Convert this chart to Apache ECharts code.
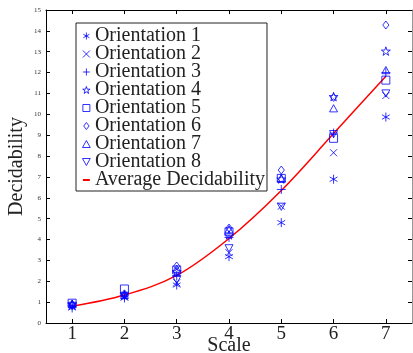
<!DOCTYPE html>
<html><head><meta charset="utf-8">
<script src="https://cdn.jsdelivr.net/npm/echarts@6/dist/echarts.min.js"></script>
<style>html,body{margin:0;padding:0;background:#fff}#c{width:413px;height:353px}</style>
</head><body><div id="c"></div>
<script>
const scales = [1, 2, 3, 4, 5, 6, 7];
const xTicks = [1, 2, 3, 4, 5, 6, 7];
const orientation1 = [0.72, 1.20, 1.82, 3.18, 4.81, 6.89, 9.87];
const orientation2 = [0.80, 1.25, 1.93, 3.37, 5.60, 8.16, 10.90];
const orientation3 = [0.85, 1.30, 2.27, 4.10, 6.40, 9.10, 12.00];
const orientation4 = [0.90, 1.35, 2.46, 4.22, 6.90, 10.85, 13.03];
const orientation5 = [0.95, 1.63, 2.54, 4.37, 6.93, 8.85, 11.64];
const orientation6 = [0.90, 1.40, 2.73, 4.55, 7.33, 10.81, 14.28];
const orientation7 = [0.90, 1.35, 2.60, 4.49, 6.95, 10.29, 12.12];
const orientation8 = [0.82, 1.30, 2.06, 3.58, 5.57, 9.05, 11.00];
const averageDecidability = [0.80, 1.34, 2.28, 4.05, 6.35, 9.08, 11.83];
const seriesNames = ['Orientation 1','Orientation 2','Orientation 3','Orientation 4','Orientation 5','Orientation 6','Orientation 7','Orientation 8','Average Decidability'];

const SYM = {
  asterisk: 'path://M0,-1L0,1M-0.866,-0.5L0.866,0.5M-0.866,0.5L0.866,-0.5',
  cross: 'path://M-1,-1L1,1M-1,1L1,-1',
  plus: 'path://M0,-1L0,1M-1,0L1,0',
  star: 'path://M0,-1L0.2245,-0.309L0.951,-0.309L0.3633,0.118L0.5878,0.809L0,0.382L-0.5878,0.809L-0.3633,0.118L-0.951,-0.309L-0.2245,-0.309Z',
  square: 'path://M-1,-1L1,-1L1,1L-1,1Z',
  diamond: 'path://M0,-1.3L1,0L0,1.3L-1,0Z',
  tri: 'path://M0,-1L1,0.8L-1,0.8Z',
  itri: 'path://M-1,-0.8L1,-0.8L0,1Z',
  redline: 'path://M0,0M10,10M0,3.6L10,3.6L10,6.4L0,6.4Z'
};
const allData = [orientation1, orientation2, orientation3, orientation4, orientation5, orientation6, orientation7, orientation8];
const syms = [SYM.asterisk, SYM.cross, SYM.plus, SYM.star, SYM.square, SYM.diamond, SYM.tri, SYM.itri];
const sizes = [9, 7, 9, 9, 8, 8, 8, 8];

const series = allData.map((arr, i) => ({
  name: seriesNames[i],
  type: 'scatter',
  xAxisIndex: 0, yAxisIndex: 0,
  data: scales.map((s, j) => [s, arr[j]]),
  symbol: syms[i],
  symbolSize: sizes[i],
  symbolKeepAspect: true,
  itemStyle: { color: 'transparent', borderColor: '#0000ff', borderWidth: 1 },
  emphasis: { disabled: true },
  z: 3
}));
series.push({
  name: seriesNames[8],
  type: 'line',
  data: scales.map((s, j) => [s, averageDecidability[j]]),
  smooth: 0.35,
  symbol: 'none',
  showSymbol: false,
  lineStyle: { color: '#ff0000', width: 1.5 },
  itemStyle: { color: '#ff0000' },
  z: 2
});

const legendData = seriesNames.map((n, i) => i < 8
  ? { name: n, icon: syms[i], itemStyle: { color: 'transparent', borderColor: '#0000ff', borderWidth: 1 } }
  : { name: n, icon: SYM.redline, itemStyle: { color: '#ff0000', borderWidth: 0 } });

const serif = 'Liberation Serif';
const axisLine = { show: true, onZero: false, lineStyle: { color: '#000', width: 1 } };
const chart = echarts.init(document.getElementById('c'), null, { renderer: 'canvas' });
chart.setOption({
  animation: false,
  backgroundColor: '#fff',
  grid: { left: 46, top: 10, width: 366, height: 313, containLabel: false, outerBoundsMode: 'none' },
  xAxis: [{
    type: 'value', min: 0.5, max: 7.5, position: 'bottom',
    axisLine: axisLine,
    axisTick: { show: true, inside: true, length: 4, customValues: xTicks, lineStyle: { color: '#000' } },
    axisLabel: { customValues: xTicks, fontFamily: serif, fontSize: 19, color: '#222', margin: 2 },
    splitLine: { show: false },
    name: 'Scale', nameLocation: 'middle', nameGap: 13, nameMoveOverlap: false,
    nameTextStyle: { fontFamily: serif, fontSize: 20, color: '#222' }
  }, {
    type: 'value', min: 0.5, max: 7.5, position: 'top',
    axisLine: axisLine,
    axisTick: { show: true, inside: true, length: 4, customValues: xTicks, lineStyle: { color: '#000' } },
    axisLabel: { show: false }, splitLine: { show: false }
  }],
  yAxis: [{
    type: 'value', min: 0, max: 15, interval: 1, position: 'left',
    axisLine: axisLine,
    axisTick: { show: true, inside: true, length: 4, lineStyle: { color: '#000' } },
    axisLabel: { fontFamily: serif, fontSize: 7, color: '#333', margin: 5 },
    splitLine: { show: false },
    name: 'Decidability', nameLocation: 'middle', nameGap: 19, nameMoveOverlap: false,
    nameTextStyle: { fontFamily: serif, fontSize: 20, color: '#222' }
  }, {
    type: 'value', min: 0, max: 15, interval: 1, position: 'right',
    axisLine: { show: true, onZero: false, lineStyle: { color: '#999', width: 1 } },
    axisTick: { show: true, inside: true, length: 4, lineStyle: { color: '#000' } },
    axisLabel: { show: false }, splitLine: { show: false }
  }],
  legend: {
    data: legendData,
    orient: 'vertical',
    left: 76, top: 23,
    padding: [3, 2, 1, 6],
    itemGap: -2,
    itemWidth: 9, itemHeight: 7,
    borderColor: '#222', borderWidth: 1, backgroundColor: '#fff',
    textStyle: { fontFamily: serif, fontSize: 20, color: '#222', padding: [0,0,0,-1] },
    selectedMode: false
  },
  series: series
});
</script></body></html>
